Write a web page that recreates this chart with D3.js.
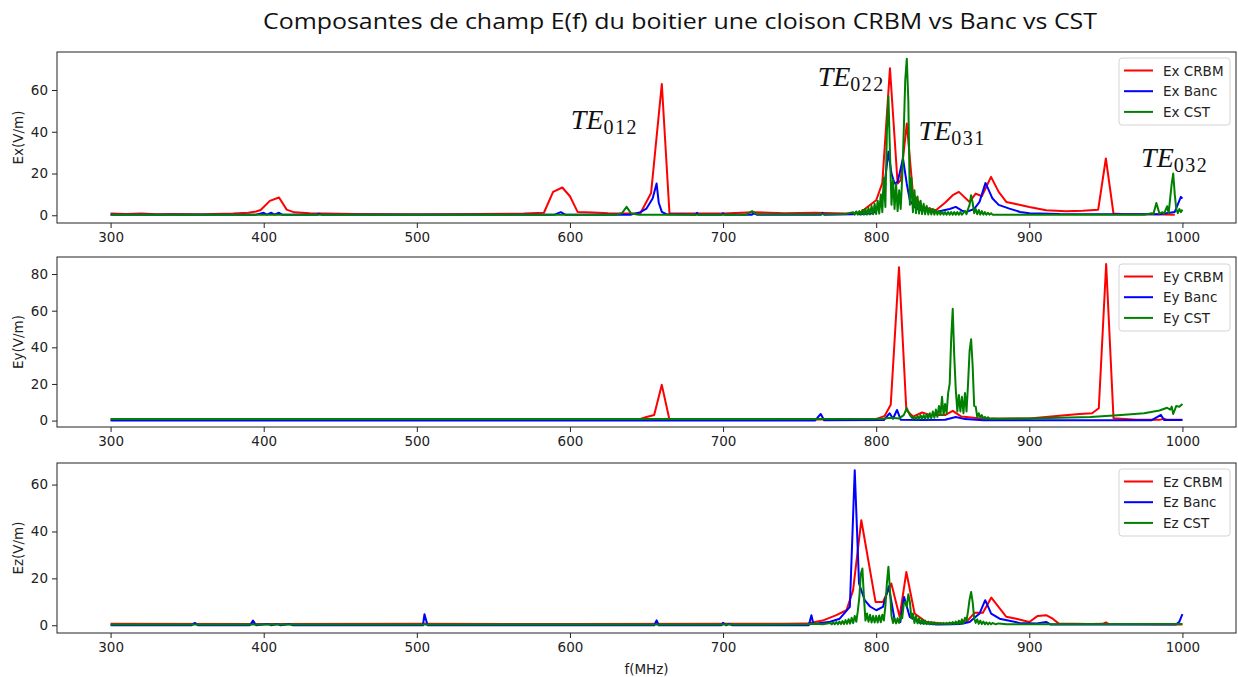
<!DOCTYPE html>
<html>
<head>
<meta charset="utf-8">
<script src="https://cdn.jsdelivr.net/npm/d3@7"></script>
<style>
  html, body { margin: 0; padding: 0; background: #fff; }
  svg { display: block; }
  text { font-family: "DejaVu Sans", sans-serif; }
</style>
</head>
<body>
<svg id="chart" width="1238" height="677"></svg>
<script>
// ---------------- DATA ----------------
const xTicks = [300, 400, 500, 600, 700, 800, 900, 1000];
const titleText = "Composantes de champ E(f) du boitier une cloison CRBM vs Banc vs CST";
const xLabel = "f(MHz)";
const sourceNames = ["CRBM", "Banc", "CST"];
const componentNames = ["Ex", "Ey", "Ez"];
const yLabels = ["Ex(V/m)", "Ey(V/m)", "Ez(V/m)"];
const yTicksEx = [0, 20, 40, 60];
const yTicksEy = [0, 20, 40, 60, 80];
const yTicksEz = [0, 20, 40, 60];

// [frequency MHz, field V/m]
const exCRBM = [[300,0.8],[310,0.6],[320,0.8],[330,0.5],[340,0.6],[360,0.5],[380,0.8],[390,1.2],[395,1.8],[398,2.5],[404,6.9],[410,8.5],[415,2.7],[420,1.4],[430,1],[440,0.8],[460,0.6],[500,0.5],[540,0.6],[570,0.8],[583,1.2],[589,11.2],[595,13.3],[600,9.1],[605,1.6],[615,1.3],[625,1],[640,0.8],[646,1],[653,10.7],[660,62.9],[665,1],[680,0.8],[700,0.8],[720,1.5],[740,1],[760,1.2],[780,0.8],[789,1],[800,7.2],[804,15.4],[809,70.4],[814,15.2],[816,16.8],[820,44],[824,10.4],[830,4],[839,2.4],[845,6],[850,9.6],[854,11.2],[861,6.4],[865,10.4],[869,9.1],[875,18.4],[880,11.2],[885,6.4],[892,5.3],[900,4],[911,2.4],[924,1.9],[935,2.2],[945,2.7],[950,27.2],[955,0.8],[960,0.6],[980,0.5],[995,0.3]];
const exBanc = [[300,0.3],[395,0.3],[400,1.2],[402,0.3],[405,1.2],[407,0.3],[410,1.2],[412,0.3],[435,0.3],[436,0.8],[438,0.3],[590,0.3],[594,1.5],[597,0.3],[640,0.3],[646,1.5],[650,3.2],[654,8],[656.6,15.2],[658,6],[660,1.6],[663,0.5],[682,0.3],[683,1.2],[684,0.3],[699,0.3],[700,1],[701,0.3],[719,0.3],[720,1],[722,0.3],[764,0.3],[765,1.2],[766,0.3],[785,0.5],[787,1.5],[789,0.5],[798,1],[802,4],[805,12],[808,30.4],[810,20],[812,15.2],[814,16],[817.5,27.2],[820,15],[822,7.2],[825,4],[828,2.7],[839,1.6],[848,3],[852,4],[856,2.2],[859,1.6],[864,3],[867.5,6.4],[871.4,15.5],[876,8],[880,5],[887,3.2],[894,1.6],[900,1],[920,0.6],[960,0.5],[985,0.5],[995,1.6],[999,8.8],[1000,8]];
const exCST = [[300,0.3],[400,0.3],[500,0.3],[600,0.3],[630,0.3],[634,1],[637,4],[640,0.8],[645,0.3],[715,0.3],[719,2],[722,0.5],[760,0.5],[780,0.6],[785,1.5],[786,0.3],[787,1.8],[788,0.3],[789,2],[790,0.3],[791,2.5],[792,0.3],[793,3],[794,0.3],[795,3.5],[796,0.4],[797,4.5],[798,0.5],[799,5.5],[800,0.6],[801,7],[802,0.8],[803,10],[804,1.5],[805,18],[806,4],[807,40],[808,57],[809,30],[810,5],[811,17],[812,3],[813,15],[814,2],[815,12],[816,3],[817,18],[818,40],[819,65],[820,75],[821,55],[822,5],[823,18],[824,1.5],[825,12],[826,1],[827,9],[828,0.8],[829,7],[830,0.6],[831,5.5],[832,0.5],[833,4.5],[834,0.4],[835,3.5],[836,0.4],[837,3],[838,0.3],[839,2.5],[840,0.3],[841,2],[842,0.3],[843,1.8],[844,0.3],[845,1.5],[846,0.3],[847,1.5],[848,0.3],[849,1.5],[850,0.3],[851,1.5],[852,0.3],[853,1.5],[854,0.3],[855,1.5],[856,0.3],[858,2],[859,0.5],[860,3],[861,5],[862,9.6],[863,6],[864,1],[865,3],[866,0.5],[867,2.5],[868,0.3],[869,2],[870,0.3],[871,1.5],[872,0.3],[873,1.2],[874,0.3],[875,1],[876,0.3],[900,0.3],[975,0.3],[980,1],[981,0.5],[983,5.9],[985,0.8],[987,1.5],[988,0.8],[990,4.3],[991,1],[993,15],[994,20],[995,10],[996,3],[997,1],[998,3],[999,1.5],[1000,2.7]];

const eyCRBM = [[300,0.6],[400,0.5],[500,0.6],[600,0.5],[645,0.6],[650,2],[655,3],[660,19.5],[665,0.5],[700,0.6],[760,0.6],[800,0.8],[805.6,2.6],[809.5,8.6],[814.9,83.7],[819.7,5.8],[824,2.2],[830,4.4],[835,3.1],[845,3],[850,5.3],[855.6,2.2],[870,1],[900,1.2],[919.7,2.6],[932.8,3.6],[941,4],[945.4,6.7],[950.2,85.5],[955,1.3],[970,0.5],[985,0.4],[988,1],[990,0.4],[1000,0.4]];
const eyBanc = [[300,0],[760,0],[763.8,3.6],[766,0.2],[805,0.3],[808.8,4],[811,1],[813.6,5.8],[816,0.5],[830,0.3],[845,0.5],[852,2],[858,0.8],[870,0.2],[980,0.2],[986,3.1],[988,0.3],[1000,0.3]];
const eyCST = [[300,0.8],[700,0.9],[800,1],[805,1.2],[810,1.5],[815,1.2],[818,3],[820,6.8],[822,3],[824,1],[825,2],[826,0.8],[827,2.5],[828,0.8],[829,3],[830,1],[831,3],[832,1],[833,3.5],[834,1],[835,4],[836,1.2],[837,5],[838,1.5],[839,6],[840,2],[841,8],[842,3],[843,13],[844,3],[845,9],[846,4],[847,15],[848,20],[849,45],[850,61],[851,35],[852,16.7],[853,5],[854,14],[855,5],[856,13],[857,4],[858,15],[859,5],[860,20],[861,38],[862,44.4],[863,30],[864,8],[865,7.6],[866,2],[867,4],[868,1.5],[869,3],[870,1.2],[871,2],[872,1],[873,1.8],[874,1],[876,1.2],[880,1],[900,1.2],[920,1.5],[940,2],[960,3],[975,4],[985,5.5],[990,7],[992,6],[993,7.6],[994,3.6],[996,8],[998,7.5],[1000,9]];

const ezCRBM = [[300,0.6],[400,0.5],[500,0.6],[600,0.5],[700,0.6],[740,0.6],[754.5,0.7],[765,2],[774,4.3],[780.6,6.4],[784.9,14.9],[790.3,44.8],[799.6,9.9],[804.4,9.9],[809.9,17.8],[815.3,3.6],[819.7,22.7],[825.1,5],[832.7,1.4],[845,0.6],[858.8,1.4],[864.3,5.3],[869.7,5.3],[875.2,11.8],[885,3.6],[891.5,2.8],[900,1.4],[905.5,4],[911,4.3],[915.3,2.8],[919.3,0.7],[940,0.5],[948,0.6],[950,1.2],[952,0.5],[1000,0.3]];
const ezBanc = [[300,0],[353,0],[355,1],[357,0],[391,0],[393,2],[395,0],[403,0.5],[405,0],[409,0.5],[411,0],[417,0.5],[419,0],[504,0],[505,4.7],[507,0],[655,0],[656.6,2.1],[658,0],[699,0],[700,1],[702,0],[704,0.6],[706,0],[756,0],[757.7,4.3],[759,0.5],[770,1.5],[776.2,2.8],[782.8,7.8],[786,66.1],[788.8,17.8],[792.5,10.7],[796,8],[800.1,6.4],[804.4,7.8],[808.2,16.6],[812.1,2.1],[815.8,1.4],[818.2,12.1],[821.9,3.6],[828.4,1.1],[840,0.3],[855,0.5],[861,1.4],[867.5,5],[871.2,10.7],[875.1,5],[880.6,2.8],[893.6,1],[905,0.8],[911,1.4],[914,0.3],[995.8,0.3],[998,1.5],[1000,4.7]];
const ezCST = [[300,0.3],[500,0.3],[700,0.3],[755,0.4],[760,0.6],[765,0.4],[770,1],[771,0.4],[772,1.2],[773,0.4],[774,1.4],[775,0.4],[776,1.6],[777,0.5],[778,1.8],[779,0.5],[780,2.2],[781,0.6],[782,2.6],[783,0.7],[784,3.2],[785,0.9],[786,4],[787,1.5],[788,6],[789,12],[790,22],[791,24.2],[792,12],[793,2],[794,5],[795,1.5],[796,4.5],[797,1.2],[798,4],[799,1.2],[800,4],[801,1.2],[802,4.2],[803,1.3],[804,4.5],[805,2],[806,8],[807,18],[808,25],[809,15],[810,4],[811,1],[812,3],[813,0.8],[814,3],[815,1],[816,4],[817,3],[818,9],[819,10],[820,8],[821,13.2],[822,10],[823,3],[824,5],[825,1],[826,4],[827,0.8],[828,3],[829,0.6],[830,2.5],[831,0.5],[832,2],[833,0.5],[834,1.6],[835,0.4],[836,1.4],[837,0.4],[838,1.2],[839,0.4],[840,1],[841,0.4],[842,1],[843,0.4],[844,1],[845,0.4],[846,1],[847,0.4],[848,1.2],[849,0.4],[850,1.4],[851,0.5],[852,1.6],[853,0.5],[854,2],[855,0.6],[856,2.5],[857,0.8],[858,3.2],[859,2],[860,6],[861,11],[862,14.2],[863,10],[864,3],[865,1],[866,2.5],[867,0.6],[868,2],[869,0.5],[870,1.6],[871,0.4],[872,1.3],[873,0.4],[874,1.1],[875,0.4],[876,1],[878,0.4],[880,0.8],[885,0.4],[900,0.4],[1000,0.5]];

// annotations: [mode subscript, f, value]
const modeLabels = [["012", 600.5, 41.1], ["022", 761.8, 61.9], ["031", 827.7, 36.0], ["032", 973.0, 23.2]];

// ---------------- LAYOUT ----------------
const svg = d3.select("#chart");
const left = 57, right = 1236;
const colors = ["#ff0000", "#0000ff", "#008000"];
const fs = "13.5px";

const panels = [
  { series: [exCRBM, exBanc, exCST], comp: componentNames[0], ylabel: yLabels[0], ticks: yTicksEx, domain: [-3.7, 78.2], top: 52, bottom: 223, legendTop: 58 },
  { series: [eyCRBM, eyBanc, eyCST], comp: componentNames[1], ylabel: yLabels[1], ticks: yTicksEy, domain: [-3.5, 89.3], top: 257, bottom: 427, legendTop: 264 },
  { series: [ezCRBM, ezBanc, ezCST], comp: componentNames[2], ylabel: yLabels[2], ticks: yTicksEz, domain: [-3.3, 69.2], top: 463, bottom: 633, legendTop: 469 }
];

const x = d3.scaleLinear().domain([265, 1035]).range([left, right]);

svg.append("text")
  .attr("x", 680).attr("y", 29)
  .attr("text-anchor", "middle")
  .style("font-family", "'Open Sans', 'Noto Sans', sans-serif")
  .style("font-size", "22px")
  .attr("textLength", 834)
  .attr("lengthAdjust", "spacingAndGlyphs")
  .attr("fill", "#111")
  .text(titleText);

panels.forEach((p, pi) => {
  const y = d3.scaleLinear().domain(p.domain).range([p.bottom, p.top]);
  const g = svg.append("g");

  const line = d3.line().x(d => x(d[0])).y(d => y(d[1]));
  p.series.forEach((s, si) => {
    g.append("path")
      .datum(s)
      .attr("fill", "none")
      .attr("stroke", colors[si])
      .attr("stroke-width", 2)
      .attr("stroke-linejoin", "round")
      .attr("d", line);
  });

  const xAxis = d3.axisBottom(x).tickValues(xTicks).tickFormat(d3.format("d")).tickSize(5).tickPadding(4);
  const yAxis = d3.axisLeft(y).tickValues(p.ticks).tickFormat(d3.format("d")).tickSize(5).tickPadding(4);
  const gx = g.append("g").attr("transform", `translate(0,${p.bottom})`).call(xAxis);
  const gy = g.append("g").attr("transform", `translate(${left},0)`).call(yAxis);
  [gx, gy].forEach(a => {
    a.select(".domain").remove();
    a.selectAll(".tick line").attr("stroke", "#222");
    a.selectAll(".tick text").attr("fill", "#222").style("font-size", fs).style("font-family", "'DejaVu Sans', sans-serif");
  });

  g.append("rect")
    .attr("x", left).attr("y", p.top)
    .attr("width", right - left).attr("height", p.bottom - p.top)
    .attr("fill", "none").attr("stroke", "#222").attr("stroke-width", 1);

  g.append("text")
    .attr("transform", `translate(18,${(p.top + p.bottom) / 2}) rotate(-90)`)
    .attr("text-anchor", "middle")
    .attr("dominant-baseline", "central")
    .style("font-size", fs)
    .attr("fill", "#222")
    .text(p.ylabel);

  const lg = g.append("g").attr("transform", `translate(1119,${p.legendTop})`);
  lg.append("rect")
    .attr("width", 111).attr("height", 67).attr("rx", 3)
    .attr("fill", "#fff").attr("fill-opacity", 0.8)
    .attr("stroke", "#d4d4d4");
  sourceNames.forEach((n, i) => {
    const cy = 12.5 + i * 20.7;
    lg.append("line").attr("x1", 5).attr("x2", 34).attr("y1", cy).attr("y2", cy)
      .attr("stroke", colors[i]).attr("stroke-width", 2);
    lg.append("text").attr("x", 44).attr("y", cy).attr("dominant-baseline", "central")
      .style("font-size", fs).attr("fill", "#222")
      .text(p.comp + " " + n);
  });

  if (pi === 0) {
    modeLabels.forEach(m => {
      const t = g.append("text")
        .attr("x", x(m[1])).attr("y", y(m[2]))
        .style("font-family", "'Liberation Serif', 'DejaVu Serif', serif")
        .attr("fill", "#111");
      t.append("tspan").style("font-style", "italic").style("font-size", "28px").text("TE");
      t.append("tspan").attr("dy", 5).style("font-size", "20px").attr("letter-spacing", 1.5).text(m[0]);
    });
  }

  if (pi === 2) {
    svg.append("text")
      .attr("x", (left + right) / 2).attr("y", 674)
      .attr("text-anchor", "middle")
      .style("font-size", fs).attr("fill", "#222")
      .text(xLabel);
  }
});
</script>
</body>
</html>
